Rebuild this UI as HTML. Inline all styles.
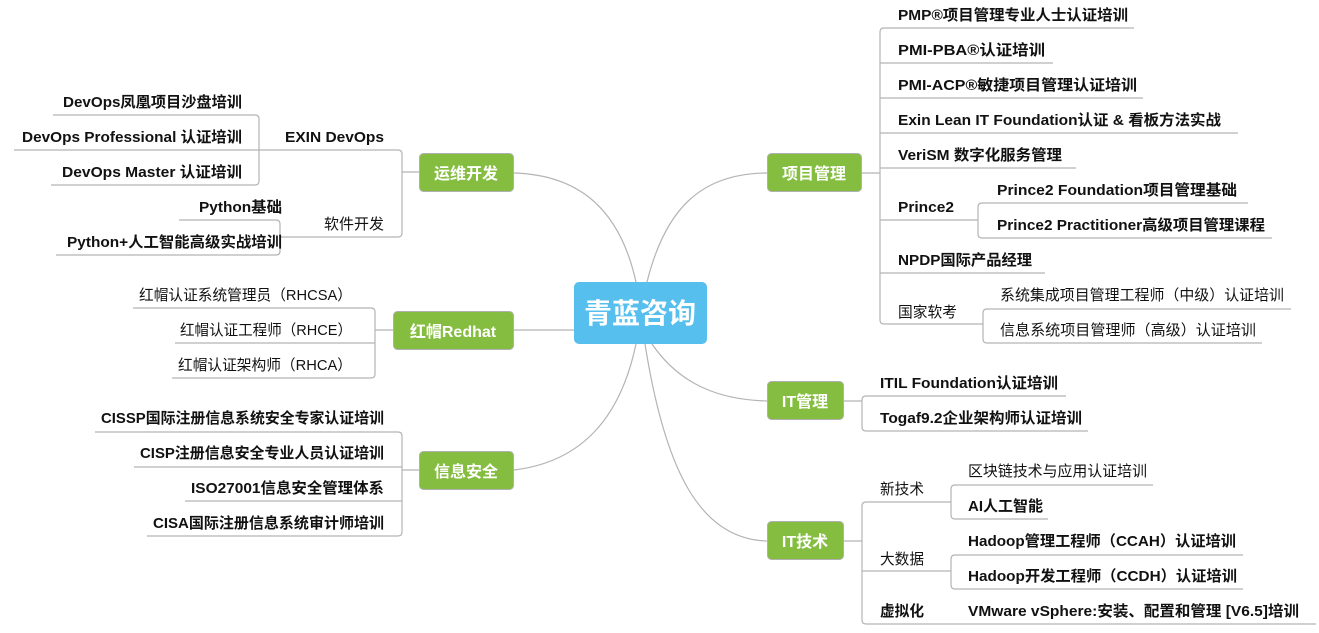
<!DOCTYPE html>
<html><head><meta charset="utf-8">
<style>
html,body{margin:0;padding:0;background:#fff;}
svg{display:block;}
text{font-family:"Liberation Sans","Noto Sans CJK SC",sans-serif;font-weight:bold;font-size:15px;fill:#111;}
.n{fill:#fff;font-size:16px;}
.c{fill:#fff;font-size:28px;}
.l{fill:none;stroke:#b4b4b4;stroke-width:1.2;}
.b{fill:#84bd3f;stroke:#b0b0b0;stroke-width:1;}
</style></head>
<body>
<svg width="1319" height="633" viewBox="0 0 1319 633" xmlns="http://www.w3.org/2000/svg">
<path class="l" d="M636 282 C620 210 580 175 514 173"/>
<path class="l" d="M647 282 C665 210 700 173 768 173"/>
<path class="l" d="M574 330 L513 330"/>
<path class="l" d="M636 344 C620 420 580 462 514 470"/>
<path class="l" d="M652 344 C680 385 720 400 768 401"/>
<path class="l" d="M645 344 C665 470 700 540 768 541"/>

<rect x="574" y="282" width="133" height="62" rx="5" fill="#57bfee"/>
<text class="c" x="640" y="323" text-anchor="middle">青蓝咨询</text>

<rect class="b" x="767.5" y="153.5" width="94" height="38" rx="4"/>
<text class="n" x="814" y="179" text-anchor="middle">项目管理</text>
<rect class="b" x="767.5" y="381.5" width="76" height="38" rx="4"/>
<text class="n" x="805" y="407" text-anchor="middle">IT管理</text>
<rect class="b" x="767.5" y="521.5" width="76" height="38" rx="4"/>
<text class="n" x="805" y="547" text-anchor="middle">IT技术</text>
<rect class="b" x="419.5" y="153.5" width="94" height="38" rx="4"/>
<text class="n" x="466" y="179" text-anchor="middle">运维开发</text>
<rect class="b" x="393.5" y="311.5" width="120" height="38" rx="4"/>
<text class="n" x="453" y="337" text-anchor="middle">红帽Redhat</text>
<rect class="b" x="419.5" y="451.5" width="94" height="38" rx="4"/>
<text class="n" x="466" y="477" text-anchor="middle">信息安全</text>

<path class="l" d="M862 173 L880 173"/>
<path class="l" d="M1134 28 L884 28 Q880 28 880 32 L880 320 Q880 324 884 324 L983 324"/>
<path class="l" d="M880 63 L1053 63 M880 98 L1143 98 M880 133 L1238 133 M880 168 L1076 168 M880 220 L978 220 M880 273 L1045 273"/>
<path class="l" d="M1248 203 L982 203 Q978 203 978 207 L978 234 Q978 238 982 238 L1272 238"/>
<path class="l" d="M1291 309 L987 309 Q983 309 983 313 L983 339 Q983 343 987 343 L1262 343"/>
<text x="898" y="20" textLength="230" lengthAdjust="spacingAndGlyphs">PMP®项目管理专业人士认证培训</text>
<text x="898" y="55" textLength="147" lengthAdjust="spacingAndGlyphs">PMI-PBA®认证培训</text>
<text x="898" y="90" textLength="239" lengthAdjust="spacingAndGlyphs">PMI-ACP®敏捷项目管理认证培训</text>
<text x="898" y="125" textLength="323" lengthAdjust="spacingAndGlyphs">Exin Lean IT Foundation认证 &amp; 看板方法实战</text>
<text x="898" y="160" textLength="164" lengthAdjust="spacingAndGlyphs">VeriSM 数字化服务管理</text>
<text x="898" y="212" textLength="56" lengthAdjust="spacingAndGlyphs">Prince2</text>
<text x="997" y="195" textLength="240" lengthAdjust="spacingAndGlyphs">Prince2 Foundation项目管理基础</text>
<text x="997" y="230" textLength="268" lengthAdjust="spacingAndGlyphs">Prince2 Practitioner高级项目管理课程</text>
<text x="898" y="265" textLength="134" lengthAdjust="spacingAndGlyphs">NPDP国际产品经理</text>
<text x="898" y="317" textLength="59" lengthAdjust="spacingAndGlyphs" style="font-weight:normal">国家软考</text>
<text x="1000" y="300" textLength="284" lengthAdjust="spacingAndGlyphs" style="font-weight:normal">系统集成项目管理工程师（中级）认证培训</text>
<text x="1000" y="335" textLength="256" lengthAdjust="spacingAndGlyphs" style="font-weight:normal">信息系统项目管理师（高级）认证培训</text>

<path class="l" d="M844 401 L862 401"/>
<path class="l" d="M1066 396 L866 396 Q862 396 862 400 L862 427 Q862 431 866 431 L1088 431"/>
<text x="880" y="388" textLength="178" lengthAdjust="spacingAndGlyphs">ITIL Foundation认证培训</text>
<text x="880" y="423" textLength="202" lengthAdjust="spacingAndGlyphs">Togaf9.2企业架构师认证培训</text>

<path class="l" d="M844 541 L862 541"/>
<path class="l" d="M951 502 L866 502 Q862 502 862 506 L862 620 Q862 624 866 624 L1316 624"/>
<path class="l" d="M862 571 L951 571"/>
<path class="l" d="M1153 485 L955 485 Q951 485 951 489 L951 515 Q951 519 955 519 L1048 519"/>
<path class="l" d="M1243 555 L955 555 Q951 555 951 559 L951 585 Q951 589 955 589 L1243 589"/>
<text x="880" y="494" textLength="44" lengthAdjust="spacingAndGlyphs" style="font-weight:normal">新技术</text>
<text x="968" y="476" textLength="179" lengthAdjust="spacingAndGlyphs" style="font-weight:normal">区块链技术与应用认证培训</text>
<text x="968" y="511" textLength="75" lengthAdjust="spacingAndGlyphs">AI人工智能</text>
<text x="880" y="564" textLength="44" lengthAdjust="spacingAndGlyphs" style="font-weight:normal">大数据</text>
<text x="968" y="546" textLength="268" lengthAdjust="spacingAndGlyphs">Hadoop管理工程师（CCAH）认证培训</text>
<text x="968" y="581" textLength="269" lengthAdjust="spacingAndGlyphs">Hadoop开发工程师（CCDH）认证培训</text>
<text x="880" y="616" textLength="44" lengthAdjust="spacingAndGlyphs">虚拟化</text>
<text x="968" y="616" textLength="331" lengthAdjust="spacingAndGlyphs">VMware vSphere:安装、配置和管理 [V6.5]培训</text>

<path class="l" d="M419 172 L402 172"/>
<path class="l" d="M259 150 L398 150 Q402 150 402 154 L402 233 Q402 237 398 237 L280 237"/>
<path class="l" d="M53 115 L255 115 Q259 115 259 119 L259 181 Q259 185 255 185 L51 185"/>
<path class="l" d="M14 150 L259 150"/>
<path class="l" d="M179 220 L276 220 Q280 220 280 224 L280 251 Q280 255 276 255 L56 255"/>
<text x="285" y="142" textLength="99" lengthAdjust="spacingAndGlyphs">EXIN DevOps</text>
<text x="324" y="229" textLength="60" lengthAdjust="spacingAndGlyphs" style="font-weight:normal">软件开发</text>
<text x="63" y="107" textLength="179" lengthAdjust="spacingAndGlyphs">DevOps凤凰项目沙盘培训</text>
<text x="22" y="142" textLength="220" lengthAdjust="spacingAndGlyphs">DevOps Professional 认证培训</text>
<text x="62" y="177" textLength="180" lengthAdjust="spacingAndGlyphs">DevOps Master 认证培训</text>
<text x="199" y="212" textLength="83" lengthAdjust="spacingAndGlyphs">Python基础</text>
<text x="67" y="247" textLength="215" lengthAdjust="spacingAndGlyphs">Python+人工智能高级实战培训</text>

<path class="l" d="M393 330 L375 330"/>
<path class="l" d="M133 308 L371 308 Q375 308 375 312 L375 374 Q375 378 371 378 L172 378"/>
<path class="l" d="M175 343 L375 343"/>
<text x="139" y="300" textLength="213" lengthAdjust="spacingAndGlyphs" style="font-weight:normal">红帽认证系统管理员（RHCSA）</text>
<text x="180" y="335" textLength="172" lengthAdjust="spacingAndGlyphs" style="font-weight:normal">红帽认证工程师（RHCE）</text>
<text x="178" y="370" textLength="174" lengthAdjust="spacingAndGlyphs" style="font-weight:normal">红帽认证架构师（RHCA）</text>

<path class="l" d="M419 470 L402 470"/>
<path class="l" d="M95 432 L398 432 Q402 432 402 436 L402 532 Q402 536 398 536 L147 536"/>
<path class="l" d="M134 467 L402 467 M185 501 L402 501"/>
<text x="101" y="423" textLength="283" lengthAdjust="spacingAndGlyphs">CISSP国际注册信息系统安全专家认证培训</text>
<text x="140" y="458" textLength="244" lengthAdjust="spacingAndGlyphs">CISP注册信息安全专业人员认证培训</text>
<text x="191" y="493" textLength="193" lengthAdjust="spacingAndGlyphs">ISO27001信息安全管理体系</text>
<text x="153" y="528" textLength="231" lengthAdjust="spacingAndGlyphs">CISA国际注册信息系统审计师培训</text>
</svg>
</body></html>
